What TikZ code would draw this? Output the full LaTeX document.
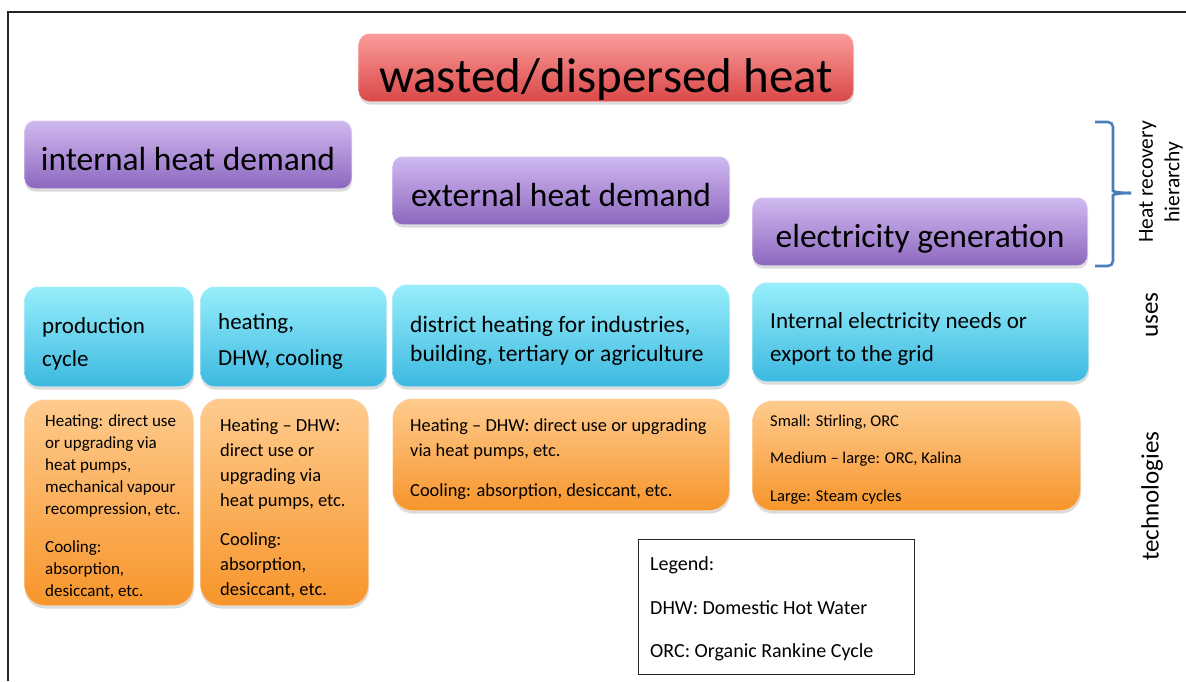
\documentclass[tikz,border=0pt]{standalone}
\usepackage{fontspec}
\setmainfont{Carlito}
\usetikzlibrary{shadows}
\newcommand\fsz[2]{\fontsize{#1}{#2}\selectfont}

\definecolor{redtop}{HTML}{FA9C9A}
\definecolor{redbot}{HTML}{DA4848}
\definecolor{purtop}{HTML}{D0BAF0}
\definecolor{purbot}{HTML}{8C67BF}
\definecolor{cyantop}{HTML}{98EEFB}
\definecolor{cyanbot}{HTML}{3CB9E0}
\definecolor{orgtop}{HTML}{FECB8E}
\definecolor{orgbot}{HTML}{F7952B}
\definecolor{bracecol}{HTML}{4A7EBB}

\tikzset{
  panel/.style={anchor=north west, inner sep=0pt, draw=white, draw opacity=0.3, line width=1pt,
    drop shadow={shadow xshift=0.5pt, shadow yshift=-3pt, opacity=0.28}},
  heatbox/.style={panel, rounded corners=11pt, top color=redtop, bottom color=redbot,
    minimum height=68pt, font=\fsz{49}{56}, text height=52pt, text depth=2pt},
  demandbox/.style={panel, rounded corners=10pt, top color=purtop, bottom color=purbot,
    minimum height=68pt, font=\fsz{33.5}{38}, text height=34pt, text depth=2pt},
  usebox/.style={panel, rounded corners=14pt, top color=cyantop, bottom color=cyanbot},
  techbox/.style={panel, rounded corners=20pt, top color=orgtop, bottom color=orgbot},
  boxtext/.style={anchor=west, align=left, inner sep=0pt},
  sidelabel/.style={rotate=90, font=\fsz{25}{28}, align=center, inner sep=0pt},
}

\begin{document}
\begin{tikzpicture}[x=1pt,y=-1pt]
\useasboundingbox (0,0) rectangle (1186,681);
\fill[white] (0,0) rectangle (1186,681);

% outer frame
\draw[line width=1.6pt, black!85] (8,681) -- (8,12) -- (1186,12);

% source and recovery levels
\node[heatbox, minimum width=495pt] (waste) at (358,33) {wasted/dispersed heat};
\node[demandbox, minimum width=327pt] (internal) at (24,120) {internal heat demand};
\node[demandbox, minimum width=337pt] (external) at (392,156) {external heat demand};
\node[demandbox, minimum width=335pt] (electric) at (752,197) {electricity generation};

% uses
\node[usebox, minimum width=169pt, minimum height=100pt] (useprod) at (24,286) {};
\node[boxtext, font=\fsz{23}{33}] (useprodtext) at ([xshift=18pt,yshift=-7pt]useprod.west) {production\\cycle};
\node[usebox, minimum width=186pt, minimum height=100pt] (useheat) at (200,286) {};
\node[boxtext, font=\fsz{23}{36}] (useheattext) at ([xshift=18pt,yshift=-5pt]useheat.west) {heating,\\DHW, cooling};
\node[usebox, minimum width=337pt, minimum height=102pt] (usedist) at (392,284) {};
\node[boxtext, font=\fsz{23.5}{29}] (usedisttext) at ([xshift=18pt,yshift=-5pt]usedist.west) {district heating for industries,\\building, tertiary or agriculture};
\node[usebox, minimum width=336pt, minimum height=99pt] (useelec) at (752,282) {};
\node[boxtext, font=\fsz{23}{33}] (useelectext) at ([xshift=18pt,yshift=-7pt]useelec.west) {Internal electricity needs or\\export to the grid};

% technologies
\node[techbox, minimum width=169pt, minimum height=206pt] (techprod) at (24,399) {};
\node[boxtext, font=\fsz{17}{22}] (techprodtext) at ([xshift=21pt,yshift=-4pt]techprod.west)
  {Heating: direct use\\or upgrading via\\heat pumps,\\mechanical vapour\\recompression, etc.\\[16pt]Cooling:\\absorption,\\desiccant, etc.};
\node[techbox, minimum width=168pt, minimum height=207pt] (techheat) at (200,398) {};
\node[boxtext, font=\fsz{18.5}{25}] (techheattext) at ([xshift=20pt,yshift=-6pt]techheat.west)
  {Heating – DHW:\\direct use or\\upgrading via\\heat pumps, etc.\\[14pt]Cooling:\\absorption,\\desiccant, etc.};
\node[techbox, minimum width=337pt, minimum height=112pt] (techdist) at (392,398) {};
\node[boxtext, font=\fsz{18.4}{25}] (techdisttext) at ([xshift=18pt,yshift=-5pt]techdist.west)
  {Heating – DHW: direct use or upgrading\\via heat pumps, etc.\\[15pt]Cooling: absorption, desiccant, etc.};
\node[techbox, minimum width=328pt, minimum height=110pt] (techelec) at (752,400) {};
\node[boxtext, font=\fsz{16.5}{37.5}] (techelectext) at ([xshift=18pt,yshift=-4pt]techelec.west)
  {Small: Stirling, ORC\\Medium – large: ORC, Kalina\\Large: Steam cycles};

% legend
\node[anchor=north west, draw=black!85, line width=1pt, minimum width=276pt, minimum height=135pt, inner sep=0pt] (legend) at (638,539) {};
\node[boxtext, font=\fsz{20}{43.5}] (legendtext) at ([xshift=12pt,yshift=-2pt]legend.west)
  {Legend:\\DHW: Domestic Hot Water\\ORC: Organic Rankine Cycle};

% hierarchy bracket and row labels
\coordinate (bracetop) at (1095,122);
\coordinate (bracebot) at (1095,266);
\coordinate (bracetip) at (1131,193);
\draw[bracecol, line width=2.6pt, rounded corners=5pt]
  (bracetop) -| (1113,186) .. controls (1113,191) and (1116,193) .. (bracetip);
\draw[bracecol, line width=2.6pt, rounded corners=5pt]
  (bracebot) -| (1113,200) .. controls (1113,195) and (1116,193) .. (bracetip);
\node[sidelabel, font=\fsz{21.5}{26.5}] (hierarchy) at (1161,182) {Heat recovery\\hierarchy};
\node[sidelabel] (uses) at (1152,315) {uses};
\node[sidelabel] (technologies) at (1152,496) {technologies};
\end{tikzpicture}
\end{document}
